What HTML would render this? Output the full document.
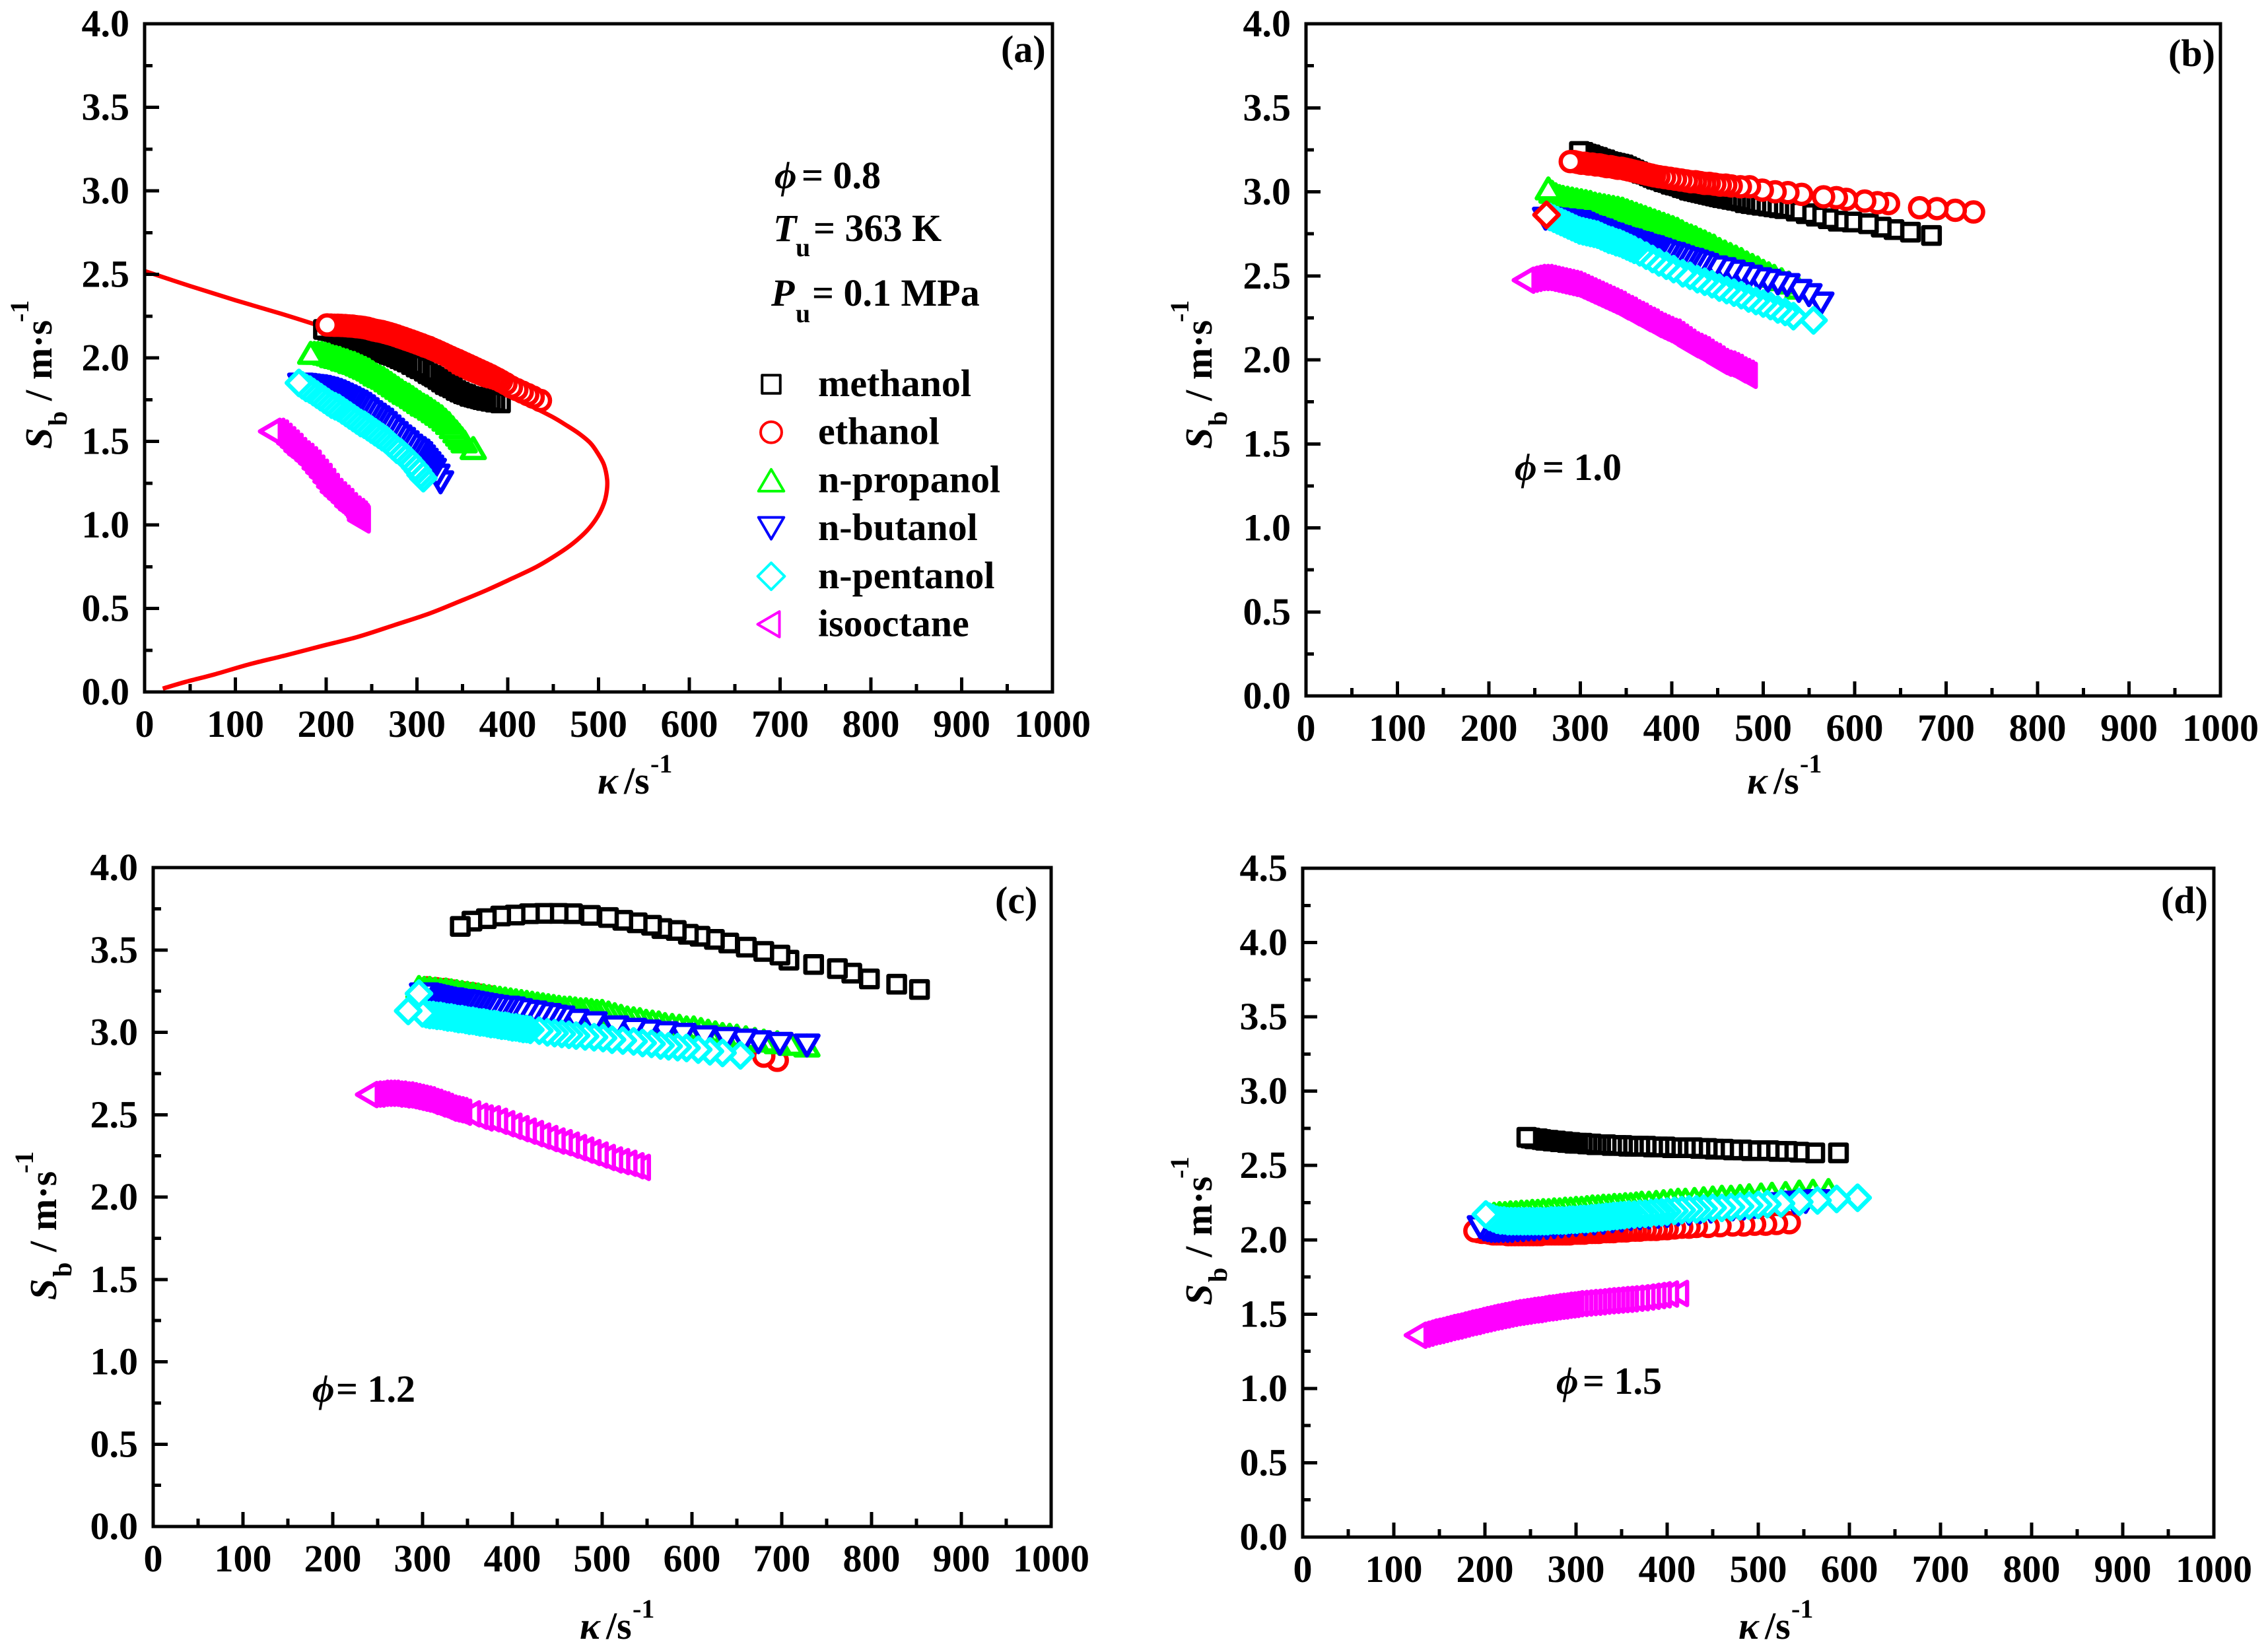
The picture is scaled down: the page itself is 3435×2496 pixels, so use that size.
<!DOCTYPE html>
<html lang="en">
<head>
<meta charset="utf-8">
<title>Burned flame speed versus stretch rate</title>
<style>
html,body{margin:0;padding:0;background:#fff;}
svg{display:block;}
text{font-family:"Liberation Serif","DejaVu Serif",serif;font-weight:bold;font-size:58px;fill:#000;}
.it{font-style:italic;}
.sm{font-size:40px;}
</style>
</head>
<body>
<svg id="figure" xmlns="http://www.w3.org/2000/svg" width="3435" height="2496" viewBox="0 0 3435 2496">
<rect x="0" y="0" width="3435" height="2496" fill="#fff"/>
<g id="plots"></g>

<text x="1516" y="94">(a)</text>
<text x="3284" y="100">(b)</text>
<text x="1507" y="1383">(c)</text>
<text x="3273" y="1383">(d)</text>

<text y="285"><tspan class="it" x="1173">&#981;</tspan><tspan x="1214">= 0.8</tspan></text>
<text y="365"><tspan class="it" x="1171">T</tspan><tspan class="sm" x="1205" y="388">u</tspan><tspan x="1232" y="365">= 363 K</tspan></text>
<text y="463"><tspan class="it" x="1168">P</tspan><tspan class="sm" x="1205" y="488">u</tspan><tspan x="1230" y="463">= 0.1 MPa</tspan></text>
<text y="727"><tspan class="it" x="2294">&#981;</tspan><tspan x="2336">= 1.0</tspan></text>
<text y="2123"><tspan class="it" x="473">&#981;</tspan><tspan x="509">= 1.2</tspan></text>
<text y="2111"><tspan class="it" x="2357">&#981;</tspan><tspan x="2397">= 1.5</tspan></text>

<text y="1202"><tspan class="it" x="905">&#954;</tspan><tspan x="945">/s</tspan><tspan class="sm" x="985" y="1170">-1</tspan></text>
<text y="1202"><tspan class="it" x="2646">&#954;</tspan><tspan x="2686">/s</tspan><tspan class="sm" x="2726" y="1170">-1</tspan></text>
<text y="2482"><tspan class="it" x="878">&#954;</tspan><tspan x="918">/s</tspan><tspan class="sm" x="958" y="2450">-1</tspan></text>
<text y="2482"><tspan class="it" x="2633">&#954;</tspan><tspan x="2673">/s</tspan><tspan class="sm" x="2713" y="2450">-1</tspan></text>

<text transform="translate(78,680) rotate(-90)"><tspan class="it" x="0" y="0">S</tspan><tspan class="sm" x="35" y="23">b</tspan><tspan x="73" y="0">/</tspan><tspan x="105" y="0">m&#183;s</tspan><tspan class="sm" x="192" y="-35">-1</tspan></text>
<text transform="translate(1835,680) rotate(-90)"><tspan class="it" x="0" y="0">S</tspan><tspan class="sm" x="35" y="23">b</tspan><tspan x="73" y="0">/</tspan><tspan x="105" y="0">m&#183;s</tspan><tspan class="sm" x="192" y="-35">-1</tspan></text>
<text transform="translate(85,1969) rotate(-90)"><tspan class="it" x="0" y="0">S</tspan><tspan class="sm" x="35" y="23">b</tspan><tspan x="73" y="0">/</tspan><tspan x="105" y="0">m&#183;s</tspan><tspan class="sm" x="192" y="-35">-1</tspan></text>
<text transform="translate(1835,1977) rotate(-90)"><tspan class="it" x="0" y="0">S</tspan><tspan class="sm" x="35" y="23">b</tspan><tspan x="73" y="0">/</tspan><tspan x="105" y="0">m&#183;s</tspan><tspan class="sm" x="192" y="-35">-1</tspan></text>

<g id="legend"></g>
</svg>

<script>
const xTickLabels = ["0","100","200","300","400","500","600","700","800","900","1000"];
const yTickLabelsTo4 = ["0.0","0.5","1.0","1.5","2.0","2.5","3.0","3.5","4.0"];
const yTickLabelsTo45 = ["0.0","0.5","1.0","1.5","2.0","2.5","3.0","3.5","4.0","4.5"];

const curveK = [0,50,100,150,188,230,280,330,380,420,448,465,479,491,499,506,509.5,509,506,499,488,472,455,432,405,377,346,314,275,235,195,156,115,77,45,20];
const curveS = [2.52,2.43,2.345,2.265,2.2,2.125,2.03,1.93,1.82,1.725,1.65,1.595,1.545,1.49,1.43,1.36,1.27,1.2,1.13,1.05,0.97,0.89,0.825,0.75,0.68,0.61,0.54,0.47,0.4,0.33,0.275,0.22,0.165,0.105,0.06,0.02];

const aMethanolK = [197,201,205,209,213,217,221,225,229,233,237,241,245,249,253,257,261,265,269,273,277,281,285,289,294,299,303,308,312,316,319,323,327,331,335,339,343,347,351,354,358,362,365,369,372,376,381,386,392];
const aMethanolS = [2.17,2.165,2.16,2.15,2.14,2.135,2.125,2.12,2.11,2.10,2.095,2.085,2.075,2.07,2.06,2.05,2.04,2.03,2.02,2.015,2.005,1.995,1.985,1.975,1.96,1.945,1.935,1.92,1.905,1.895,1.885,1.87,1.855,1.84,1.83,1.82,1.805,1.795,1.785,1.78,1.77,1.765,1.76,1.755,1.75,1.745,1.74,1.735,1.73];
const aEthanolK = [201,205,209,213,217,221,225,229,233,237,241,245,249,253,257,261,265,269,273,277,281,285,289,293,297,301,305,309,313,317,321,325,329,333,337,341,345,349,353,357,361,365,369,373,377,381,385,389,393,398,404,410,416,422,428,436];
const aEthanolS = [2.197,2.196,2.195,2.195,2.194,2.193,2.191,2.19,2.187,2.185,2.182,2.178,2.172,2.166,2.162,2.158,2.152,2.146,2.14,2.133,2.125,2.118,2.11,2.103,2.095,2.087,2.079,2.07,2.063,2.053,2.044,2.034,2.024,2.014,2.004,1.994,1.985,1.975,1.965,1.955,1.945,1.935,1.925,1.915,1.905,1.895,1.883,1.872,1.86,1.845,1.825,1.81,1.795,1.78,1.765,1.745];
const aPropanolK = [183,187,191,195,199,203,207,211,215,219,223,227,231,235,239,243,247,251,255,259,263,267,271,275,279,283,287,291,295,299,303,307,311,315,319,323,327,331,335,339,343,346,349,352,362];
const aPropanolS = [2.03,2.03,2.03,2.03,2.025,2.02,2.01,2.005,2.0,1.99,1.985,1.975,1.97,1.96,1.95,1.94,1.93,1.915,1.90,1.89,1.88,1.865,1.85,1.835,1.82,1.805,1.79,1.78,1.765,1.75,1.735,1.72,1.71,1.695,1.68,1.665,1.65,1.63,1.61,1.585,1.56,1.54,1.52,1.50,1.46];
const aButanolK = [172,176,180,184,188,192,196,200,204,208,212,216,220,224,228,232,236,240,244,248,252,256,260,264,268,272,276,280,284,288,292,296,300,303,306,309,312,315,318,322,326];
const aButanolS = [1.84,1.838,1.835,1.832,1.83,1.826,1.82,1.815,1.808,1.80,1.79,1.78,1.77,1.76,1.748,1.738,1.725,1.71,1.693,1.675,1.66,1.645,1.63,1.61,1.59,1.57,1.55,1.53,1.515,1.495,1.475,1.46,1.445,1.43,1.41,1.39,1.37,1.35,1.33,1.295,1.255];
const aPentanolK = [170,174,178,182,186,190,194,198,202,206,210,214,218,222,226,230,234,238,242,246,250,254,258,262,266,270,274,278,282,286,290,294,298,301,304,307];
const aPentanolS = [1.85,1.835,1.82,1.81,1.795,1.78,1.765,1.75,1.735,1.72,1.71,1.70,1.685,1.67,1.655,1.64,1.625,1.61,1.60,1.585,1.57,1.555,1.54,1.525,1.51,1.49,1.47,1.45,1.435,1.415,1.395,1.37,1.345,1.325,1.30,1.28];
const aIsooctaneK = [138,142,146,150,154,158,162,166,170,174,178,182,186,190,194,198,202,206,210,214,218,222,226,230,233,235,236,236];
const aIsooctaneS = [1.56,1.56,1.55,1.53,1.51,1.49,1.47,1.445,1.425,1.41,1.39,1.37,1.34,1.315,1.29,1.26,1.23,1.20,1.18,1.16,1.14,1.115,1.095,1.08,1.065,1.05,1.04,1.03];

const bMethanolK = [299,303,307,311,315,319,323,327,331,335,339,343,347,351,355,359,363,367,371,375,379,383,387,391,395,399,403,407,411,415,419,423,427,431,435,439,443,447,451,455,460,465,470,475,480,486,492,498,505,511,517,523,536,547,558,571,582,597,615,629,643,661,684];
const bMethanolS = [3.24,3.235,3.225,3.22,3.21,3.205,3.195,3.19,3.18,3.175,3.17,3.165,3.16,3.15,3.14,3.13,3.12,3.11,3.105,3.095,3.085,3.075,3.07,3.06,3.055,3.045,3.04,3.035,3.025,3.02,3.01,3.005,3.0,2.995,2.99,2.985,2.98,2.975,2.97,2.965,2.96,2.955,2.95,2.945,2.935,2.93,2.925,2.92,2.915,2.91,2.905,2.90,2.885,2.87,2.855,2.84,2.825,2.82,2.81,2.79,2.775,2.76,2.74];
const bEthanolK = [289,293,297,301,305,309,313,317,321,325,329,333,337,341,345,349,353,357,361,365,369,373,377,381,386,392,398,404,410,416,421,426,431,436,441,447,453,459,465,475,485,499,513,527,542,566,580,591,611,625,637,671,690,710,730];
const bEthanolS = [3.18,3.18,3.175,3.17,3.17,3.165,3.165,3.16,3.16,3.155,3.15,3.15,3.145,3.14,3.14,3.135,3.13,3.125,3.12,3.115,3.11,3.105,3.10,3.095,3.09,3.085,3.08,3.075,3.07,3.065,3.06,3.06,3.055,3.05,3.05,3.045,3.04,3.04,3.035,3.03,3.03,3.01,3.0,2.995,2.985,2.97,2.965,2.955,2.945,2.935,2.93,2.905,2.90,2.89,2.88];
const bPropanolK = [265,269,273,277,281,286,291,296,301,306,311,316,321,326,331,336,341,346,351,356,361,366,371,376,381,386,391,396,401,406,411,416,421,426,431,436,441,446,452,458,464,470,476,482,488,494,500,506,512,520,528,538];
const bPropanolS = [3.02,3.0,2.985,2.975,2.97,2.965,2.96,2.955,2.95,2.945,2.94,2.93,2.925,2.92,2.915,2.91,2.905,2.90,2.89,2.88,2.87,2.86,2.85,2.84,2.83,2.82,2.81,2.80,2.79,2.78,2.765,2.75,2.74,2.73,2.715,2.705,2.69,2.68,2.66,2.645,2.63,2.615,2.60,2.58,2.565,2.55,2.53,2.515,2.50,2.48,2.46,2.43];
const bButanolK = [262,266,270,274,278,282,286,290,294,298,302,306,310,314,318,322,326,330,334,338,342,346,350,354,358,362,366,370,374,378,382,386,391,396,401,406,411,416,421,426,432,437,447,456,466,476,485,495,505,516,526,539,550,563];
const bButanolS = [2.84,2.84,2.835,2.835,2.83,2.83,2.825,2.825,2.82,2.82,2.81,2.80,2.79,2.785,2.775,2.77,2.76,2.75,2.745,2.735,2.73,2.72,2.715,2.71,2.70,2.695,2.69,2.68,2.675,2.67,2.66,2.655,2.645,2.635,2.63,2.62,2.61,2.60,2.595,2.585,2.575,2.565,2.55,2.54,2.525,2.51,2.495,2.48,2.47,2.455,2.445,2.41,2.385,2.335];
const bPentanolK = [263,267,271,275,279,283,287,291,295,299,303,307,311,315,319,323,327,331,335,339,343,347,351,355,359,365,372,379,386,394,402,412,420,428,436,444,452,460,468,476,484,492,500,508,516,524,533,555];
const bPentanolS = [2.863,2.85,2.84,2.83,2.82,2.81,2.80,2.79,2.78,2.77,2.765,2.76,2.755,2.75,2.745,2.735,2.725,2.715,2.71,2.70,2.695,2.685,2.675,2.665,2.655,2.64,2.62,2.60,2.58,2.56,2.54,2.515,2.50,2.48,2.465,2.45,2.43,2.415,2.40,2.385,2.365,2.35,2.335,2.32,2.30,2.285,2.26,2.235];
const bIsooctaneK = [238,242,246,250,254,258,262,266,270,274,278,282,286,290,294,298,302,306,310,314,318,322,326,330,334,338,342,346,350,354,358,362,366,370,374,378,382,386,390,394,398,402,406,410,414,418,422,426,430,434,438,442,446,450,454,458,462,466,470,474,478,481];
const bIsooctaneS = [2.474,2.48,2.485,2.49,2.49,2.49,2.485,2.48,2.475,2.47,2.465,2.46,2.455,2.45,2.44,2.43,2.42,2.41,2.40,2.39,2.38,2.37,2.36,2.35,2.34,2.33,2.315,2.305,2.295,2.28,2.27,2.26,2.245,2.235,2.225,2.21,2.20,2.19,2.18,2.17,2.165,2.15,2.135,2.12,2.105,2.09,2.08,2.07,2.06,2.045,2.03,2.02,2.005,1.99,1.98,1.975,1.965,1.955,1.94,1.93,1.92,1.908];

const cMethanolK = [342,355,371,387,403,419,435,451,467,487,507,523,539,555,566.5,582.5,596,609,625,641,660.5,680,698,708,735.5,762,778,797.6,828,853.4];
const cMethanolS = [3.643,3.675,3.69,3.706,3.712,3.72,3.722,3.722,3.72,3.71,3.697,3.68,3.665,3.65,3.63,3.618,3.595,3.583,3.564,3.542,3.517,3.491,3.469,3.438,3.412,3.387,3.359,3.324,3.292,3.26];
const cEthanolK = [305,315,325,335,345,355,365,375,385,395,405,415,425,435,445,455,465,475,485,495,505,515,525,535,545,555,565,575,585,595,605,615,630,645,660,680,695];
const cEthanolS = [3.27,3.265,3.26,3.25,3.24,3.235,3.225,3.215,3.20,3.19,3.18,3.165,3.155,3.145,3.135,3.125,3.115,3.105,3.095,3.085,3.075,3.065,3.055,3.045,3.035,3.025,3.01,3.0,2.99,2.98,2.97,2.96,2.94,2.92,2.90,2.855,2.83];
const cPropanolK = [296,302,308,314,320,326,332,338,344,350,356,362,368,374,380,386,392,398,404,410,416,422,428,434,440,446,452,458,464,470,476,482,488,494,500,507,514,521,528,535,542,549,556,563,570,578,586,594,602,610,618,626,634,642,650,660,670,680,695,710,728];
const cPropanolS = [3.275,3.27,3.27,3.265,3.26,3.26,3.255,3.25,3.245,3.24,3.235,3.23,3.225,3.22,3.215,3.21,3.205,3.20,3.195,3.19,3.185,3.18,3.175,3.17,3.165,3.16,3.155,3.15,3.15,3.145,3.14,3.14,3.135,3.13,3.13,3.12,3.11,3.10,3.09,3.085,3.08,3.07,3.065,3.06,3.05,3.045,3.04,3.03,3.03,3.02,3.01,3.0,2.99,2.985,2.98,2.97,2.96,2.95,2.94,2.93,2.92];
const cButanolK = [300,304,308,312,316,320,324,328,332,336,340,345,350,355,360,365,370,376,382,388,394,400,408,416,424,432,440,447,455,471,491,515,535,551,570,590,614,638,658,674,698,728];
const cButanolS = [3.23,3.23,3.225,3.22,3.215,3.21,3.205,3.20,3.20,3.195,3.19,3.19,3.185,3.18,3.175,3.17,3.165,3.16,3.155,3.15,3.15,3.145,3.135,3.125,3.12,3.11,3.105,3.095,3.09,3.07,3.055,3.03,3.015,3.005,2.995,2.985,2.97,2.96,2.95,2.94,2.93,2.92];
const cPentanolK = [284,296,300,304,308,312,316,320,324,328,332,336,340,344,348,352,356,360,364,368,372,376,380,384,388,392,396,400,404,408,412,416,420,430,439,447,455,463,471,481,491,501,511,523,535,545,555,565,574,584,594,607,620,634,654];
const cPentanolS = [3.13,3.235,3.115,3.11,3.105,3.105,3.10,3.10,3.095,3.09,3.09,3.085,3.08,3.08,3.075,3.07,3.07,3.065,3.06,3.06,3.055,3.05,3.05,3.045,3.04,3.04,3.035,3.03,3.03,3.025,3.02,3.02,3.015,3.01,3.0,2.995,2.99,2.985,2.98,2.975,2.97,2.965,2.955,2.95,2.945,2.935,2.93,2.92,2.915,2.91,2.905,2.895,2.885,2.875,2.86];
const cIsooctaneK = [238,242,246,250,254,258,262,266,270,274,278,282,286,290,294,298,302,306,310,314,318,322,326,330,334,338,342,352,360,366,374,382,390,398,406,414,422,430,438,446,454,462,470,478,486,494,502,510,518,526,534,541];
const cIsooctaneS = [2.622,2.625,2.625,2.63,2.63,2.63,2.63,2.625,2.625,2.62,2.62,2.615,2.61,2.605,2.60,2.595,2.59,2.58,2.575,2.565,2.56,2.55,2.54,2.535,2.53,2.525,2.515,2.505,2.49,2.48,2.475,2.46,2.445,2.43,2.415,2.40,2.385,2.37,2.355,2.34,2.33,2.315,2.30,2.285,2.27,2.255,2.24,2.225,2.215,2.205,2.19,2.18];

const dMethanolK = [246,250,254,258,262,266,270,274,278,282,286,290,294,298,302,307,312,317,322,327,333,339,345,351,357,363,370,377,384,391,398,405,412,420,428,436,444,452,462,472,482,492,502,512,522,532,545,562,588];
const dMethanolS = [2.69,2.685,2.68,2.68,2.675,2.67,2.67,2.665,2.665,2.66,2.66,2.655,2.655,2.65,2.65,2.65,2.645,2.645,2.64,2.64,2.64,2.635,2.635,2.635,2.63,2.63,2.63,2.63,2.625,2.625,2.625,2.62,2.62,2.62,2.62,2.615,2.615,2.61,2.61,2.605,2.605,2.60,2.60,2.60,2.595,2.595,2.59,2.585,2.585];
const dEthanolK = [189,193,197,201,205,209,213,217,221,225,229,233,237,241,245,249,253,257,261,265,269,273,277,281,285,289,293,297,301,305,309,313,317,321,325,329,333,337,341,345,350,355,360,365,370,376,382,388,394,400,408,416,424,432,445,458,472,484,496,508,520,534];
const dEthanolS = [2.06,2.055,2.05,2.05,2.045,2.04,2.04,2.04,2.04,2.035,2.035,2.035,2.035,2.035,2.035,2.035,2.035,2.035,2.035,2.04,2.04,2.04,2.04,2.04,2.04,2.04,2.04,2.045,2.045,2.045,2.045,2.05,2.05,2.05,2.05,2.055,2.055,2.055,2.055,2.06,2.06,2.06,2.065,2.065,2.065,2.07,2.07,2.07,2.075,2.075,2.08,2.085,2.085,2.09,2.09,2.095,2.10,2.10,2.105,2.105,2.11,2.115];
const dPropanolK = [205,210,216,222,228,234,240,246,252,258,264,270,276,282,288,294,300,306,312,318,324,330,336,342,348,354,360,366,372,380,388,396,404,412,420,430,440,450,460,470,480,490,503,515,530,545,560,577];
const dPropanolS = [2.17,2.175,2.18,2.18,2.185,2.185,2.19,2.19,2.195,2.195,2.20,2.20,2.205,2.205,2.21,2.21,2.215,2.215,2.22,2.225,2.225,2.23,2.23,2.235,2.235,2.24,2.24,2.245,2.25,2.25,2.255,2.26,2.265,2.27,2.27,2.275,2.28,2.285,2.29,2.29,2.295,2.30,2.305,2.31,2.315,2.325,2.33,2.335];
const dButanolK = [195,199,203,207,211,215,220,225,230,236,242,248,254,260,268,276,284,292,300,310,320,330,340,350,360,370,380,390,400,412,424,436,448,460,472,484,496,510,525,540,552,565];
const dButanolS = [2.085,2.07,2.065,2.06,2.06,2.06,2.06,2.06,2.06,2.065,2.065,2.07,2.07,2.075,2.08,2.085,2.09,2.095,2.10,2.105,2.11,2.115,2.125,2.13,2.14,2.145,2.15,2.155,2.16,2.17,2.175,2.185,2.19,2.20,2.205,2.21,2.22,2.23,2.24,2.25,2.255,2.26];
const dPentanolK = [201,205,209,213,217,221,225,229,233,237,241,245,249,253,257,261,265,269,273,277,281,285,289,293,297,301,305,309,313,317,321,325,329,333,337,341,345,349,353,358,364,370,376,382,388,394,400,408,416,424,432,440,450,460,470,480,490,500,510,525,545,565,586,609];
const dPentanolS = [2.17,2.155,2.145,2.135,2.13,2.13,2.125,2.125,2.125,2.125,2.125,2.125,2.125,2.125,2.125,2.125,2.125,2.125,2.13,2.13,2.13,2.13,2.13,2.135,2.135,2.135,2.14,2.14,2.14,2.145,2.145,2.15,2.15,2.155,2.155,2.16,2.16,2.165,2.165,2.17,2.17,2.175,2.175,2.18,2.185,2.185,2.19,2.195,2.20,2.205,2.205,2.21,2.215,2.215,2.22,2.225,2.23,2.235,2.24,2.245,2.255,2.265,2.275,2.283];
const dIsooctaneK = [124,128,132,136,140,144,148,152,156,160,164,168,172,176,180,184,188,192,196,200,204,208,212,216,220,224,228,232,236,240,244,248,252,256,260,264,268,272,276,280,284,288,292,296,301,306,311,316,321,326,331,336,341,346,351,356,362,368,374,380,386,392,400,411];
const dIsooctaneS = [1.358,1.365,1.372,1.38,1.385,1.39,1.397,1.403,1.41,1.415,1.42,1.427,1.433,1.44,1.445,1.45,1.457,1.463,1.468,1.474,1.48,1.484,1.49,1.494,1.50,1.505,1.51,1.513,1.517,1.52,1.525,1.528,1.53,1.535,1.54,1.542,1.545,1.55,1.553,1.555,1.56,1.562,1.565,1.57,1.572,1.575,1.578,1.58,1.583,1.587,1.59,1.592,1.595,1.598,1.60,1.603,1.607,1.61,1.615,1.62,1.625,1.63,1.635,1.639];

const fuelNames = ["methanol","ethanol","n-propanol","n-butanol","n-pentanol","isooctane"];

const NS = "http://www.w3.org/2000/svg";
const fuelColors = ["#000000","#ff0000","#00ff00","#0000ff","#00ffff","#ff00ff"];
const fuelShapes = ["square","circle","up","down","diamond","left"];

const panels = [
  {id:"a",left:219,right:1594,top:36,bottom:1048,yMax:4,yLabels:yTickLabelsTo4,
   series:[[aMethanolK,aMethanolS],[aEthanolK,aEthanolS],[aPropanolK,aPropanolS],[aButanolK,aButanolS],[aPentanolK,aPentanolS],[aIsooctaneK,aIsooctaneS]]},
  {id:"b",left:1978,right:3363,top:36,bottom:1054,yMax:4,yLabels:yTickLabelsTo4,
   series:[[bMethanolK,bMethanolS],[bEthanolK,bEthanolS],[bPropanolK,bPropanolS],[bButanolK,bButanolS],[bPentanolK,bPentanolS],[bIsooctaneK,bIsooctaneS]]},
  {id:"c",left:232,right:1592,top:1314,bottom:2312,yMax:4,yLabels:yTickLabelsTo4,
   series:[[cMethanolK,cMethanolS],[cEthanolK,cEthanolS],[cPropanolK,cPropanolS],[cButanolK,cButanolS],[cPentanolK,cPentanolS],[cIsooctaneK,cIsooctaneS]]},
  {id:"d",left:1973,right:3353,top:1315,bottom:2328,yMax:4.5,yLabels:yTickLabelsTo45,
   series:[[dMethanolK,dMethanolS],[dEthanolK,dEthanolS],[dPropanolK,dPropanolS],[dButanolK,dButanolS],[dPentanolK,dPentanolS],[dIsooctaneK,dIsooctaneS]]}
];

function xScale(p, k) { return p.left + (p.right - p.left) * k / 1000; }
function yScale(p, s) { return p.bottom - (p.bottom - p.top) * s / p.yMax; }

function shapeElement(shape, cx, cy, scale) {
  let el;
  if (shape === "circle") {
    el = document.createElementNS(NS, "circle");
    el.setAttribute("cx", cx);
    el.setAttribute("cy", cy);
    el.setAttribute("r", 14.5 * scale);
    return el;
  }
  let pts;
  if (shape === "square") pts = [[-12.5,-12.5],[12.5,-12.5],[12.5,12.5],[-12.5,12.5]];
  if (shape === "up") pts = [[0,-15],[17.5,15],[-17.5,15]];
  if (shape === "down") pts = [[0,15],[17.5,-15],[-17.5,-15]];
  if (shape === "diamond") pts = [[-18.5,0],[0,-18.5],[18.5,0],[0,18.5]];
  if (shape === "left") pts = [[-15,0],[15,-17.5],[15,17.5]];
  el = document.createElementNS(NS, "polygon");
  el.setAttribute("points", pts.map(function (q) { return (cx + q[0] * scale) + "," + (cy + q[1] * scale); }).join(" "));
  return el;
}

function styleMark(el, color, width) {
  el.setAttribute("fill", "#ffffff");
  el.setAttribute("stroke", color);
  el.setAttribute("stroke-width", width);
  el.setAttribute("stroke-linejoin", "round");
}

function addText(parent, x, y, str, anchor, label) {
  const t = document.createElementNS(NS, "text");
  t.setAttribute("x", x);
  t.setAttribute("y", y);
  t.setAttribute("text-anchor", anchor);
  
  
  t.textContent = str;
  parent.appendChild(t);
  return t;
}

function addLine(parent, x1, y1, x2, y2, label) {
  const l = document.createElementNS(NS, "line");
  l.setAttribute("x1", x1);
  l.setAttribute("y1", y1);
  l.setAttribute("x2", x2);
  l.setAttribute("y2", y2);
  l.setAttribute("stroke", "#000");
  l.setAttribute("stroke-width", 5);
  l.setAttribute("shape-rendering", "crispEdges");
  
  
  parent.appendChild(l);
}

function drawAxes(group, p) {
  xTickLabels.forEach(function (lab, i) {
    const value = Number(lab);
    const x = xScale(p, value);
    addLine(group, x, p.bottom, x, p.bottom - 22, "panel-" + p.id + "-x-tick");
    addText(group, x, p.bottom + 68, lab, "middle", "panel-" + p.id + "-x-tick-label");
    if (i < xTickLabels.length - 1) {
      const xm = xScale(p, value + 50);
      addLine(group, xm, p.bottom, xm, p.bottom - 12, "panel-" + p.id + "-x-minor-tick");
    }
  });
  p.yLabels.forEach(function (lab, i) {
    const value = Number(lab);
    const y = yScale(p, value);
    addLine(group, p.left, y, p.left + 22, y, "panel-" + p.id + "-y-tick");
    addText(group, p.left - 23, y + 19, lab, "end", "panel-" + p.id + "-y-tick-label");
    if (i < p.yLabels.length - 1) {
      const ym = yScale(p, value + 0.25);
      addLine(group, p.left, ym, p.left + 12, ym, "panel-" + p.id + "-y-minor-tick");
    }
  });
  const frame = document.createElementNS(NS, "rect");
  frame.setAttribute("x", p.left);
  frame.setAttribute("y", p.top);
  frame.setAttribute("width", p.right - p.left);
  frame.setAttribute("height", p.bottom - p.top);
  frame.setAttribute("fill", "none");
  frame.setAttribute("stroke", "#000");
  frame.setAttribute("stroke-width", 5);
  frame.setAttribute("shape-rendering", "crispEdges");
  
  
  group.appendChild(frame);
}

function smoothPath(pts) {
  let d = "M" + pts[0][0] + "," + pts[0][1];
  for (let i = 0; i < pts.length - 1; i++) {
    const p0 = pts[Math.max(i - 1, 0)];
    const p1 = pts[i];
    const p2 = pts[i + 1];
    const p3 = pts[Math.min(i + 2, pts.length - 1)];
    d += " C" + (p1[0] + (p2[0] - p0[0]) / 6) + "," + (p1[1] + (p2[1] - p0[1]) / 6) + " " +
         (p2[0] - (p3[0] - p1[0]) / 6) + "," + (p2[1] - (p3[1] - p1[1]) / 6) + " " + p2[0] + "," + p2[1];
  }
  return d;
}

function drawCurve(group, p) {
  const curve = document.createElementNS(NS, "path");
  const pts = curveK.map(function (k, i) { return [xScale(p, k), yScale(p, curveS[i])]; });
  curve.setAttribute("d", smoothPath(pts));
  curve.setAttribute("fill", "none");
  curve.setAttribute("stroke", "#ff0000");
  curve.setAttribute("stroke-width", 6.5);
  curve.setAttribute("stroke-linejoin", "round");
  
  
  group.appendChild(curve);
}

function drawSeries(group, p, seriesIndex) {
  const pair = p.series[seriesIndex];
  const fuel = fuelNames[seriesIndex];
  const g = document.createElementNS(NS, "g");
  
  
  for (let i = pair[0].length - 1; i >= 0; i--) {
    const mark = shapeElement(fuelShapes[seriesIndex], xScale(p, pair[0][i]), yScale(p, pair[1][i]), 1);
    const isRedOutlier = p.id === "b" && fuel === "n-pentanol" && i === 0;
    styleMark(mark, isRedOutlier ? "#ff0000" : fuelColors[seriesIndex], 6.5);
    
    
    g.appendChild(mark);
  }
  group.appendChild(g);
}

const plotLayer = document.getElementById("plots");
panels.forEach(function (p) {
  const group = document.createElementNS(NS, "g");
  
  
  plotLayer.appendChild(group);
  if (p.id === "a") drawCurve(group, p);
  p.series.forEach(function (pair, idx) { drawSeries(group, p, idx); });
  drawAxes(group, p);
});

const legendGroup = document.getElementById("legend");
const legendMarkerX = 1168;
const legendRowTop = 582;
const legendRowStep = 72.7;
fuelNames.forEach(function (fuel, i) {
  const rowY = legendRowTop + i * legendRowStep;
  const icon = shapeElement(fuelShapes[i], legendMarkerX - (i === 5 ? 4 : 0), rowY, 1.1);
  styleMark(icon, fuelColors[i], 4);
  icon.setAttribute("fill", "none");
  
  
  legendGroup.appendChild(icon);
  addText(legendGroup, 1239, rowY + 18, fuel, "start", "legend-label-" + fuel);
});
</script>
</body>
</html>
